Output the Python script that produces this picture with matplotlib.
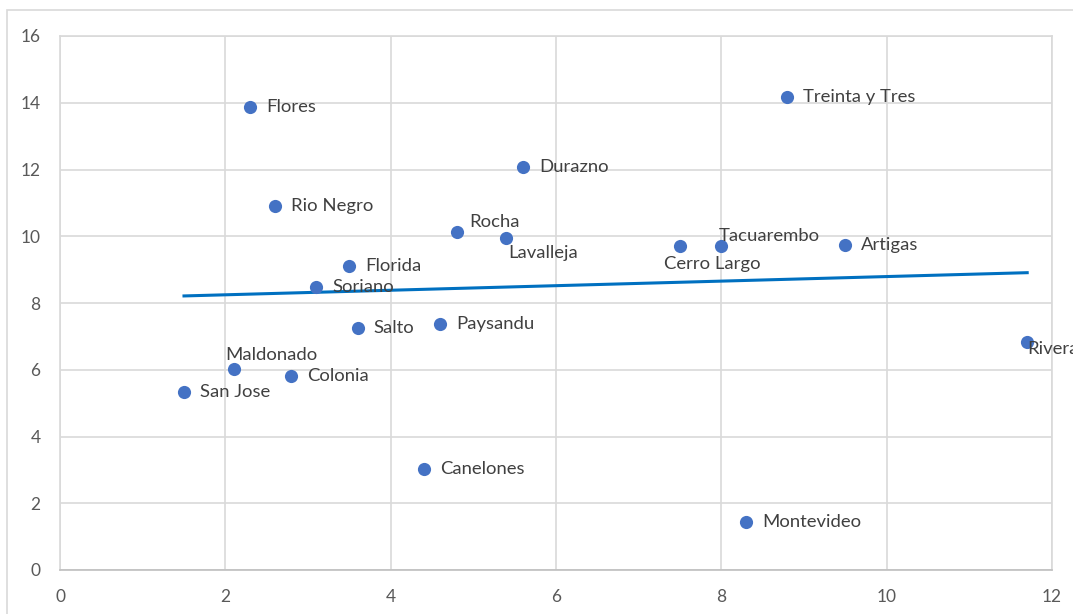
import matplotlib
matplotlib.use("Agg")
import matplotlib.pyplot as plt
import numpy as np
from matplotlib.patches import Rectangle

departments = [
    "Flores", "Treinta y Tres", "Durazno", "Rio Negro", "Rocha", "Lavalleja",
    "Cerro Largo", "Tacuarembo", "Artigas", "Florida", "Soriano", "Salto",
    "Paysandu", "Maldonado", "Colonia", "San Jose", "Rivera", "Canelones",
    "Montevideo",
]
x_values = [2.3, 8.8, 5.6, 2.6, 4.8, 5.4, 7.5, 8.0, 9.5, 3.5, 3.1, 3.6,
            4.6, 2.1, 2.8, 1.5, 11.7, 4.4, 8.3]
y_values = [13.87, 14.17, 12.07, 10.9, 10.13, 9.95, 9.71, 9.7, 9.74, 9.11, 8.48, 7.25,
            7.37, 6.02, 5.81, 5.33, 6.83, 3.03, 1.44]
x_ticks = [0, 2, 4, 6, 8, 10, 12]
y_ticks = [0, 2, 4, 6, 8, 10, 12, 14, 16]

# label placement (pixel offsets from the marker), default is to the right
LABEL_OFFSETS = {
    "Maldonado": (-8, 14),
    "Lavalleja": (2, -15),
    "Rocha": (12, 10),
    "Cerro Largo": (-16, -18),
    "Tacuarembo": (-3, 10),
    "Rivera": (0, -7),
}
DEFAULT_OFFSET = (16, 0)

plt.rcParams["font.family"] = ["Lato", "DejaVu Sans"]

fig = plt.figure(figsize=(10.73, 6.14), dpi=100)
ax = fig.add_axes([60 / 1073, 44 / 614, 992 / 1073, 534 / 614])

# outer chart frame
fig.patches.append(Rectangle((7 / 1073, -0.02), 1.1, 0.02 + (614 - 10) / 614,
                             transform=fig.transFigure, fill=False,
                             edgecolor="#d9d9d9", linewidth=1.2))

ax.scatter(x_values, y_values, s=90, color="#4472C4", zorder=3, linewidths=0)

slope, intercept = np.polyfit(x_values, y_values, 1)
xs = np.array([min(x_values), max(x_values)])
ax.plot(xs, slope * xs + intercept, color="#0070C0", linewidth=2.2, zorder=2)

for name, x, y in zip(departments, x_values, y_values):
    dx, dy = LABEL_OFFSETS.get(name, DEFAULT_OFFSET)
    ax.annotate(name, (x, y), xytext=(dx, dy), textcoords="offset pixels",
                ha="left", va="center", fontsize=13.3, color="#404040",
                annotation_clip=False, zorder=4)

ax.set_xlim(0, 12)
ax.set_ylim(0, 16)
ax.set_xticks(x_ticks)
ax.set_yticks(y_ticks)
ax.grid(True, color="#d9d9d9", linewidth=1.2)
ax.set_axisbelow(True)
for spine in ax.spines.values():
    spine.set_color("#d9d9d9")
    spine.set_linewidth(1.2)
ax.spines["bottom"].set_color("#bfbfbf")
ax.tick_params(length=0, labelsize=12.5, labelcolor="#595959")
ax.tick_params(axis="y", pad=14)
ax.tick_params(axis="x", pad=14)

fig.savefig("out.png", dpi=100)
